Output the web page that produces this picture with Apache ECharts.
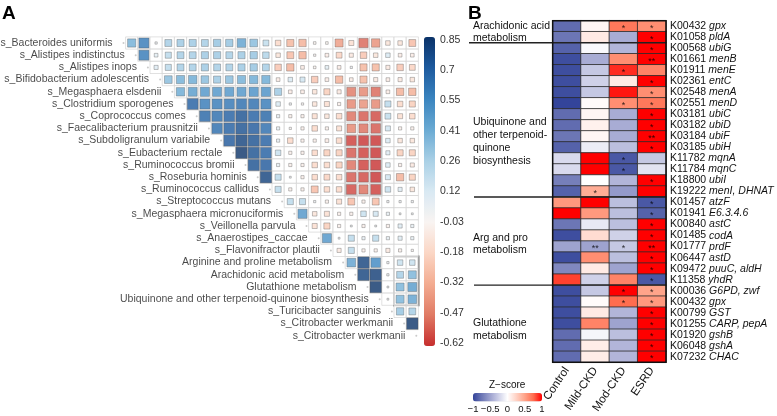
<!DOCTYPE html>
<html>
<head>
<meta charset="utf-8">
<script src="https://cdn.jsdelivr.net/npm/echarts@6.0.0/dist/echarts.min.js"></script>
<style>
  html, body { margin: 0; padding: 0; background: #fff; }
  #chart { width: 777px; height: 416px; }
</style>
</head>
<body>
<div id="chart"></div>
<script>
// ---- panel A: correlation matrix ----
const speciesLabels = [
  's_Bacteroides uniformis', 's_Alistipes indistinctus', 's_Alistipes inops',
  's_Bifidobacterium adolescentis', 's_Megasphaera elsdenii', 's_Clostridium sporogenes',
  's_Coprococcus comes', 's_Faecalibacterium prausnitzii', 's_Subdoligranulum variabile',
  's_Eubacterium rectale', 's_Ruminococcus bromii', 's_Roseburia hominis',
  's_Ruminococcus callidus', 's_Streptococcus mutans', 's_Megasphaera micronuciformis',
  's_Veillonella parvula', 's_Anaerostipes_caccae', 's_Flavonifractor plautii',
  'Arginine and proline metabolism', 'Arachidonic acid metabolism', 'Glutathione metabolism',
  'Ubiquinone and other terpenoid-quinone biosynthesis', 's_Turicibacter sanguinis',
  's_Citrobacter werkmanii', 's_Citrobacter werkmanii'
]
// row i holds the correlations with columns i+1 .. 24 (upper triangle)
const corrUpper = [
  [0.4, 0.6, 0.03, 0.28, 0.3, 0.3, 0.28, 0.32, 0.32, 0.45, 0.35, 0.2, -0.18, -0.3, -0.32, -0.04, -0.04, -0.38, -0.15, -0.52, -0.42, -0.12, -0.12, -0.28],
  [0.6, 0.08, 0.22, 0.28, 0.28, 0.3, 0.3, 0.28, 0.3, 0.32, 0.25, -0.12, -0.28, -0.32, -0.03, -0.08, -0.2, -0.1, -0.25, -0.12, 0.12, -0.08, -0.08],
  [0.1, 0.22, 0.28, 0.28, 0.3, 0.28, 0.28, 0.3, 0.32, 0.28, -0.25, -0.32, -0.08, -0.04, 0.08, -0.08, 0.03, -0.3, -0.3, -0.1, -0.25, -0.2],
  [0.35, 0.4, 0.42, 0.35, 0.3, 0.35, 0.4, 0.42, 0.42, -0.08, 0.12, 0.15, -0.25, -0.08, -0.32, -0.08, -0.3, -0.1, -0.08, -0.1, -0.12],
  [0.42, 0.48, 0.5, 0.5, 0.5, 0.5, 0.52, 0.52, 0.3, -0.08, -0.08, -0.12, -0.22, -0.1, -0.48, -0.45, -0.52, -0.08, -0.32, -0.32],
  [0.7, 0.6, 0.6, 0.62, 0.65, 0.65, 0.6, 0.12, 0.03, -0.03, -0.12, -0.15, -0.06, -0.45, -0.42, -0.45, 0.22, -0.18, -0.22],
  [0.68, 0.65, 0.7, 0.75, 0.7, 0.68, 0.06, -0.06, -0.06, -0.15, -0.12, -0.18, -0.5, -0.55, -0.58, 0.2, -0.15, -0.18],
  [0.65, 0.7, 0.75, 0.72, 0.65, 0.06, -0.03, -0.06, -0.18, -0.06, -0.15, -0.45, -0.5, -0.55, 0.15, -0.06, -0.06],
  [0.72, 0.8, 0.75, 0.7, 0.06, -0.18, -0.06, -0.06, -0.08, -0.18, -0.6, -0.62, -0.62, 0.12, -0.12, -0.12],
  [0.85, 0.75, 0.7, 0.18, -0.06, -0.06, -0.18, -0.22, -0.22, -0.55, -0.6, -0.62, 0.1, -0.22, -0.22],
  [0.75, 0.72, 0.06, -0.06, -0.06, -0.18, -0.18, -0.22, -0.5, -0.6, -0.62, 0.12, -0.06, -0.1],
  [0.8, 0.22, 0.02, -0.06, -0.18, -0.2, -0.18, -0.55, -0.58, -0.62, 0.15, -0.32, -0.22],
  [0.22, -0.06, -0.06, -0.28, -0.18, -0.18, -0.58, -0.5, -0.6, 0.18, 0.1, -0.12],
  [0.22, 0.22, 0.03, -0.06, -0.15, -0.28, -0.06, -0.28, 0.03, 0.03, 0.03],
  [0.5, -0.12, -0.15, -0.06, -0.06, 0.18, 0.15, 0.06, 0.02, 0.02],
  [-0.15, -0.22, -0.06, 0.02, -0.06, 0.02, -0.06, 0.1, 0.06],
  [0.5, 0.02, 0.22, 0.06, 0.22, 0.06, 0.1, 0.06],
  [-0.1, 0.22, -0.06, -0.06, -0.1, -0.06, -0.03],
  [0.45, 0.8, 0.55, 0.03, 0.18, 0.18],
  [0.8, 0.82, 0.03, 0.28, 0.38],
  [0.85, 0.02, 0.38, 0.48],
  [0.02, 0.38, 0.45],
  [0.32, 0.28],
  [0.85]
]
// boxes: [firstCol, firstRow, lastCol, lastRow]
const corrBoxes = [[19, 4, 21, 12], [23, 18, 24, 21]]
const corrTicks = ['-0.62', '-0.47', '-0.32', '-0.18', '-0.03', '0.12', '0.26', '0.41', '0.55', '0.7', '0.85']
const corrColors = ['#c62e2e', '#e07a64', '#f3ab90', '#fbd6c4', '#f9f4f2', '#d9e9f3', '#a9d0e6', '#6aaad3', '#3a84bf', '#1d5a9e', '#0a3268']

// ---- panel B: z-score heatmap ----
const stageNames = ['Control', 'Mild-CKD', 'Mod-CKD', 'ESRD']
const koIds = ['K00432', 'K01058', 'K00568', 'K01661', 'K01911', 'K02361', 'K02548', 'K02551', 'K03181', 'K03182', 'K03184', 'K03185', 'K11782', 'K11784', 'K18800', 'K19222',
  'K01457', 'K01941', 'K00840', 'K01485', 'K01777', 'K06447', 'K09472', 'K11358',
  'K00036', 'K00432', 'K00799', 'K01255', 'K01920', 'K06048', 'K07232']
const geneNames = ['gpx', 'pldA', 'ubiG', 'menB', 'menE', 'entC', 'menA', 'menD', 'ubiC', 'ubiD', 'ubiF', 'ubiH', 'mqnA', 'mqnC', 'ubiI', 'menI, DHNAT',
  'atzF', 'E6.3.4.6', 'astC', 'codA', 'prdF', 'astD', 'puuC, aldH', 'yhdR',
  'G6PD, zwf', 'gpx', 'GST', 'CARP, pepA', 'gshB', 'gshA', 'CHAC']
const zControl = [-0.8, -0.75, -0.85, -0.95, -0.95, -0.95, -0.95, -1, -0.8, -0.8, -0.75, -0.85, -0.2, -0.2, -0.7, -0.85, 0.55, 1, -0.75, -0.95, -0.5, -0.95, -0.65, 0.85, -0.95, -0.95, -0.95, -0.95, -0.8, -0.8, -0.8]
const zMild = [0.05, 0.12, -0.03, -0.45, -0.3, -0.25, -0.3, 0.02, 0.05, 0.08, 0.05, -0.1, 1, 1, 0, 0.45, 1, 0.55, -0.12, 0.2, -0.5, 0.6, 0.12, -0.25, -0.3, 0.02, 0.12, 0.65, -0.05, 0.1, 0.1]
const zMod = [0.7, -0.45, -0.4, 0.6, 0.9, 0.12, 0.95, 0.6, -0.45, -0.45, -0.45, -0.35, -0.9, -0.9, -0.4, -0.55, -0.35, -0.35, -0.35, -0.25, -0.3, -0.35, -0.5, 0.65, 1, 0.75, -0.4, -0.5, -0.35, -0.4, -0.4]
const zEsrd = [0.6, 1, 1, 1, 0.65, 1, 0.6, 0.7, 1, 1, 1, 1, -0.3, -0.15, 1, 1, -0.9, -0.85, 1, 1, 1, 1, 1, -0.9, 0.5, 0.55, 1, 1, 1, 1, 1]
const starsMild = ['', '', '', '', '', '', '', '', '', '', '', '', '', '', '', '*', '', '', '', '', '**', '', '', '', '', '', '', '', '', '', '']
const starsMod = ['*', '', '', '', '*', '', '', '*', '', '', '', '', '*', '*', '', '', '', '', '', '', '*', '', '', '', '*', '*', '', '', '', '', '']
const starsEsrd = ['*', '*', '*', '**', '', '*', '*', '*', '*', '*', '**', '*', '', '', '*', '', '*', '*', '*', '*', '**', '*', '*', '*', '*', '*', '*', '*', '*', '*', '*']
const groupBreaks = [2, 16, 24]
const zTicks = ['\u22121', '\u22120.5', '0', '0.5', '1']
const zColors = ['#33449a', '#6c76b5', '#9ea3cf', '#cfd1e8', '#ffffff', '#ffd3c6', '#ffa48a', '#ff6d4f', '#ff0000']

const font = 'Liberation Sans, Arial, sans-serif'
const cell = 12.2

let gridCells = []
let squares = []
corrUpper.forEach((vals, i) => {
  vals.forEach((v, k) => {
    gridCells.push([i + 1 + k, i])
    squares.push([i + 1 + k, i, v])
  })
})
let diagPts = speciesLabels.map((n, i) => ({ name: n, value: [i, i] }))

let heatData = []
;[zControl, zMild, zMod, zEsrd].forEach((col, c) => col.forEach((z, r) => heatData.push([c, r, z])))
let starData = []
;[[], starsMild, starsMod, starsEsrd].forEach((col, c) => col.forEach((s, r) => { if (s) starData.push([c, r, s]) }))

let chartDom = echarts.init(document.getElementById('chart'))
let option = {
  animation: false,
  textStyle: { fontFamily: font },
  grid: [
    { left: 113.4, top: 36.9, width: 25 * cell, height: 25 * cell },
    { left: 424, top: 40, width: 11, height: 303 },
    { left: 552.7, top: 20.7, width: 113.3, height: 351 },
    { left: 473, top: 393, width: 69, height: 8.5 },
  ],
  xAxis: [
    { gridIndex: 0, type: 'category', data: speciesLabels.map((_, i) => String(i)), show: false },
    { gridIndex: 1, type: 'value', show: false },
    {
      gridIndex: 2, type: 'category', data: stageNames,
      axisLine: { show: false }, axisTick: { show: false },
      axisLabel: { rotate: 56, interval: 0, fontSize: 11.5, color: '#111', margin: 6 },
    },
    {
      gridIndex: 3, type: 'category', data: zTicks, boundaryGap: false,
      axisLine: { show: false }, axisTick: { show: false },
      axisLabel: { interval: 0, fontSize: 9.5, color: '#111', margin: 3 },
    },
  ],
  yAxis: [
    { gridIndex: 0, type: 'category', data: speciesLabels.map((_, i) => String(i)), inverse: true, show: false },
    {
      gridIndex: 1, type: 'category', data: corrTicks, boundaryGap: false, position: 'right',
      axisLine: { show: false },
      axisTick: { show: true, length: 3, lineStyle: { color: '#555' } },
      axisLabel: { interval: 0, fontSize: 10.5, color: '#333', margin: 5 },
    },
    {
      gridIndex: 2, type: 'category', data: koIds.map((_, i) => String(i)), inverse: true, position: 'right',
      axisLine: { show: false }, axisTick: { show: false },
      axisLabel: {
        interval: 0, margin: 4, fontSize: 10.5, color: '#111',
        formatter: (v, i) => koIds[i] + ' {g|' + geneNames[i] + '}',
        rich: { g: { fontStyle: 'italic', fontSize: 10.5, color: '#111' } },
      },
    },
    { gridIndex: 3, type: 'value', show: false },
  ],
  visualMap: [
    {
      type: 'continuous', seriesIndex: 1, dimension: 2, min: -0.62, max: 0.85,
      inRange: { color: corrColors }, calculable: false, hoverLink: false,
      left: 424, top: 37, itemWidth: 11, itemHeight: 309, padding: 0,
    },
    {
      type: 'continuous', seriesIndex: 4, dimension: 2, min: -1, max: 1,
      inRange: { color: zColors }, calculable: false, hoverLink: false, orient: 'horizontal',
      left: 473, top: 393, itemWidth: 8.5, itemHeight: 69, padding: 0,
    },
  ],
  series: [
    {
      type: 'scatter', xAxisIndex: 0, yAxisIndex: 0, silent: true,
      symbol: 'rect', symbolSize: [cell, cell],
      itemStyle: { color: '#fff', borderColor: '#cfcfcf', borderWidth: 0.8 },
      data: gridCells,
    },
    {
      type: 'scatter', xAxisIndex: 0, yAxisIndex: 0, silent: true,
      symbol: 'rect', symbolSize: (d) => Math.min(11.4, 13 * Math.sqrt(Math.abs(d[2]))),
      itemStyle: { borderColor: 'rgba(80,80,80,0.75)', borderWidth: 0.6 },
      data: squares,
    },
    {
      type: 'scatter', xAxisIndex: 0, yAxisIndex: 0, silent: true,
      symbol: 'circle', symbolSize: 2, symbolOffset: [4, 0],
      itemStyle: { color: '#bdbdbd' },
      label: { show: true, position: 'left', distance: 10, formatter: '{b}', fontSize: 10.5, color: '#1a1a1a' },
      data: diagPts,
    },
    {
      type: 'custom', xAxisIndex: 0, yAxisIndex: 0, silent: true, clip: false,
      encode: { x: [0, 2], y: [1, 3] },
      renderItem: (params, api) => {
        const p0 = api.coord([api.value(0), api.value(1)])
        const sz = api.size([1, 1])
        return {
          type: 'rect',
          shape: {
            x: p0[0] - sz[0] / 2, y: p0[1] - sz[1] / 2,
            width: (api.value(2) - api.value(0) + 1) * sz[0],
            height: (api.value(3) - api.value(1) + 1) * sz[1],
          },
          style: { fill: 'none', stroke: '#111', lineWidth: 1.8 },
        }
      },
      data: corrBoxes,
    },
    {
      type: 'heatmap', xAxisIndex: 2, yAxisIndex: 2, silent: true,
      itemStyle: { borderColor: '#2b2b2b', borderWidth: 0.8 },
      data: heatData,
    },
    {
      type: 'scatter', xAxisIndex: 2, yAxisIndex: 2, silent: true, symbolSize: 0,
      label: { show: true, position: 'inside', offset: [0, 2], formatter: (p) => p.value[2], fontSize: 9, color: '#000' },
      data: starData,
    },
    {
      type: 'custom', xAxisIndex: 2, yAxisIndex: 2, silent: true, clip: false,
      encode: { x: 0, y: 1 },
      renderItem: (params, api) => {
        const sz = api.size([1, 1])
        const y = api.coord([0, api.value(1)])[1] - sz[1] / 2
        const xr = api.coord([3, api.value(1)])[0] + sz[0] / 2
        const xl = params.dataIndex === 0 ? 469 : 474
        return { type: 'line', shape: { x1: xl, y1: y, x2: xr, y2: y }, style: { stroke: '#222', lineWidth: 1.3 } }
      },
      data: groupBreaks.map((b) => [0, b]),
    },
    {
      type: 'custom', xAxisIndex: 2, yAxisIndex: 2, silent: true, clip: false,
      encode: { x: [0, 2], y: [1, 3] },
      renderItem: (params, api) => {
        const sz = api.size([1, 1])
        const p0 = api.coord([api.value(0), api.value(1)])
        const p1 = api.coord([api.value(2), api.value(3)])
        return {
          type: 'rect',
          shape: { x: p0[0] - sz[0] / 2, y: p0[1] - sz[1] / 2, width: p1[0] - p0[0] + sz[0], height: p1[1] - p0[1] + sz[1] },
          style: { fill: 'none', stroke: '#111', lineWidth: 1.5 },
        }
      },
      data: [[0, 0, 3, 30]],
    },
  ],
  graphic: [
    { type: 'text', left: 2, top: 4, style: { text: 'A', font: 'bold 19px ' + font, fill: '#000' } },
    { type: 'text', left: 468, top: 4, style: { text: 'B', font: 'bold 19px ' + font, fill: '#000' } },
    { type: 'text', left: 473, top: 20, style: { text: 'Arachidonic acid\nmetabolism', font: '10.5px ' + font, lineHeight: 12, fill: '#111' } },
    { type: 'text', left: 473, top: 116, style: { text: 'Ubiquinone and\nother terpenoid-\nquinone\nbiosynthesis', font: '10.5px ' + font, lineHeight: 12.8, fill: '#111' } },
    { type: 'text', left: 473, top: 232, style: { text: 'Arg and pro\nmetabolism', font: '10.5px ' + font, lineHeight: 12.4, fill: '#111' } },
    { type: 'text', left: 473, top: 317, style: { text: 'Glutathione\nmetabolism', font: '10.5px ' + font, lineHeight: 13, fill: '#111' } },
    { type: 'text', left: 489, top: 380, style: { text: 'Z\u2212score', font: '10px ' + font, fill: '#111' } },
  ],
}
chartDom.setOption(option)
</script>
</body>
</html>
